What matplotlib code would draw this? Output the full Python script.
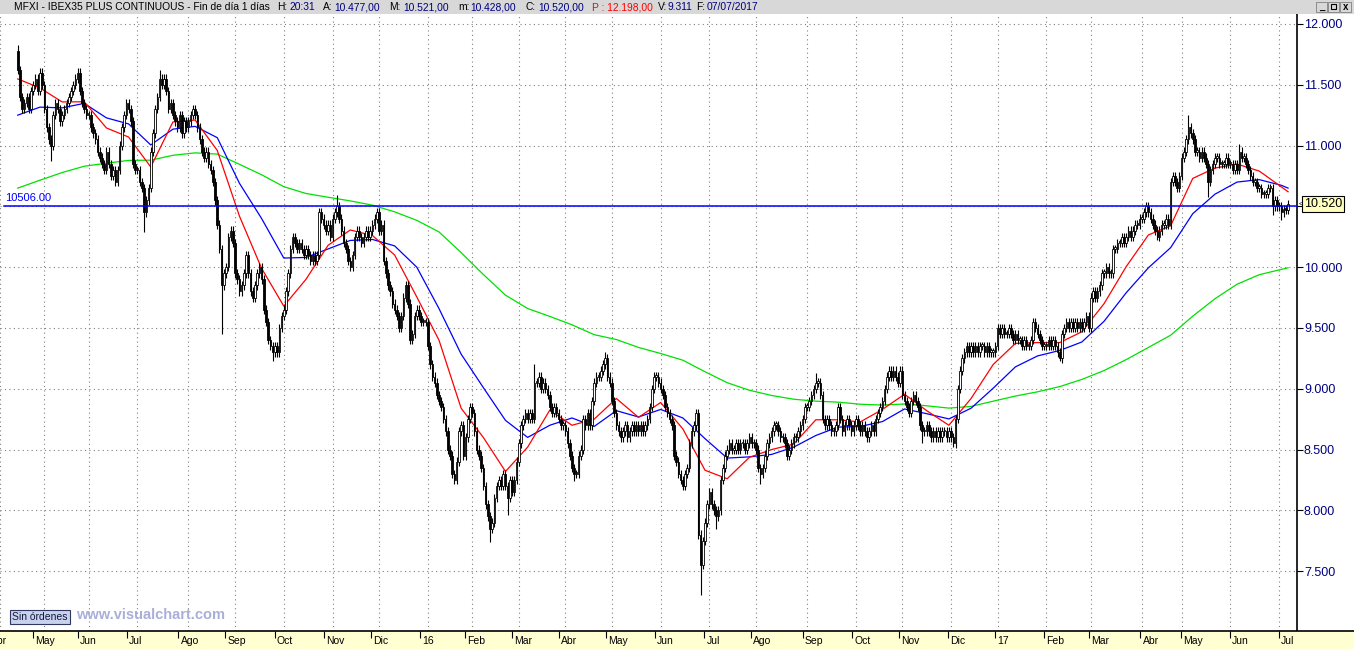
import numpy as np
import matplotlib.pyplot as plt
from matplotlib.patches import Rectangle
from matplotlib.transforms import blended_transform_factory

plt.rcParams['font.family'] = ['Liberation Sans', 'DejaVu Sans']

# Daily closes (MFXI, Apr 2015 - Jul 2017)
close_2015 = [
    # Apr
    11620, 11400, 11300, 11350, 11400, 11300, 11450, 11500, 11550, 11450, 11600, 11500,
    # May
    11300, 11150, 11050, 11000, 11250, 11350, 11300, 11200, 11250, 11300,
    11350, 11400, 11450, 11500, 11550, 11600, 11450, 11350, 11300, 11250,
    # Jun
    11250, 11150, 11100, 11050, 10950, 10900, 10850, 10800, 10950, 10850,
    10750, 10800, 10700, 10800, 11000, 11150, 11250, 11350, 11300, 11200, 10850, 10800,
    # Jul
    10800, 10700, 10650, 10450, 10550, 10650, 10950, 11100, 11300, 11400,
    11550, 11500, 11550, 11450, 11300, 11350, 11250, 11200, 11150, 11250, 11100, 11200, 11150,
    # Aug
    11200, 11250, 11300, 11250, 11150, 11050, 10950, 10900, 10950, 10850,
    10800, 10700, 10550, 10350, 10150, 9850, 9950, 10000, 10250, 10300, 10200,
    # Sep
    9950, 9900, 9800, 9850, 9950, 10100, 9950, 9800, 9750, 9850,
    9950, 10000, 9900, 9650, 9550, 9400, 9350, 9300, 9350, 9300, 9500, 9600,
    # Oct
    9650, 9800, 9950, 10150, 10250, 10200, 10150, 10200, 10150, 10100,
    10150, 10100, 10050, 10100, 10050, 10100, 10450, 10400, 10350, 10300, 10350, 10250,
    # Nov
    10400, 10450, 10500, 10400, 10300, 10200, 10150, 10050, 10000, 10100,
    10250, 10300, 10250, 10200, 10250, 10300, 10250, 10300, 10350, 10400, 10450,
    # Dec
    10300, 10350, 10050, 9950, 9850, 9800, 9700, 9650, 9600, 9500,
    9600, 9750, 9850, 9700, 9400, 9450, 9600, 9650, 9600, 9550, 9550, 9550,
]
close_2016 = [
    # Jan
    9350, 9200, 9100, 9050, 8950, 8900, 8850, 8750, 8650, 8500,
    8450, 8300, 8250, 8400, 8650, 8700, 8450, 8600, 8750, 8850,
    # Feb
    8800, 8650, 8500, 8450, 8350, 8200, 8050, 7950, 7850, 7900,
    8100, 8200, 8250, 8200, 8300, 8200, 8100, 8250, 8150, 8250, 8400,
    # Mar
    8550, 8700, 8750, 8800, 8750, 8800, 8750, 9050, 9050, 9100,
    9000, 9050, 9000, 8950, 8850, 8800, 8850, 8800, 8750, 8700, 8700,
    # Apr
    8650, 8550, 8450, 8350, 8300, 8300, 8450, 8500, 8750, 8700,
    8800, 8700, 8900, 9050, 9100, 9100, 9150, 9200, 9250, 9100, 9050,
    # May
    8900, 8800, 8700, 8650, 8600, 8650, 8700, 8600, 8650, 8700,
    8650, 8700, 8650, 8700, 8650, 8700, 8750, 8850, 9000, 9100, 9100, 9050,
    # Jun
    9000, 8950, 8850, 8800, 8750, 8700, 8450, 8400, 8300, 8250,
    8200, 8300, 8350, 8550, 8650, 8700, 8800, 7800, 7550, 7750, 7900, 8050,
    # Jul
    8150, 8050, 8000, 7950, 8000, 8250, 8350, 8450, 8500, 8550,
    8500, 8500, 8550, 8500, 8550, 8550, 8500, 8550, 8600, 8550, 8550,
    # Aug
    8500, 8350, 8300, 8350, 8450, 8550, 8600, 8650, 8700, 8700,
    8650, 8600, 8600, 8550, 8450, 8500, 8550, 8600, 8600, 8650, 8700, 8750, 8850,
    # Sep
    8850, 8900, 8950, 9000, 9050, 9050, 8950, 8750, 8700, 8750,
    8700, 8650, 8650, 8700, 8850, 8750, 8650, 8700, 8750, 8700, 8650, 8700,
    # Oct
    8750, 8700, 8650, 8700, 8650, 8600, 8650, 8700, 8650, 8750,
    8800, 8850, 8900, 9000, 9100, 9150, 9100, 9150, 9100, 9050, 9150,
    # Nov
    8950, 8900, 8850, 8800, 8900, 8950, 8900, 8850, 8700, 8650,
    8650, 8700, 8650, 8600, 8650, 8600, 8650, 8600, 8650, 8650, 8600, 8650,
    # Dec
    8600, 8550, 8750, 9000, 9150, 9250, 9300, 9350, 9300, 9350,
    9300, 9350, 9300, 9350, 9350, 9300, 9350, 9300, 9300, 9300, 9350,
]
close_2017 = [
    # Jan
    9500, 9450, 9500, 9450, 9450, 9500, 9450, 9400, 9450, 9400,
    9400, 9350, 9400, 9350, 9350, 9400, 9550, 9500, 9450, 9400, 9350, 9350,
    # Feb
    9350, 9400, 9350, 9400, 9350, 9300, 9250, 9450, 9500, 9550,
    9500, 9550, 9500, 9550, 9500, 9550, 9500, 9550, 9600, 9500,
    # Mar
    9750, 9800, 9750, 9800, 9850, 9950, 9950, 10000, 9950, 9950,
    10150, 10150, 10200, 10200, 10250, 10200, 10250, 10300, 10250, 10300, 10350, 10350, 10400,
    # Apr
    10400, 10450, 10500, 10450, 10400, 10350, 10300, 10250, 10300, 10350,
    10350, 10400, 10350, 10700, 10750, 10700, 10650, 10750,
    # May
    10900, 10950, 11050, 11150, 11100, 11050, 10950, 10950, 10900, 10950,
    10900, 10850, 10700, 10800, 10850, 10900, 10900, 10850, 10850, 10850, 10900, 10850,
    # Jun
    10850, 10800, 10850, 10800, 10950, 10900, 10900, 10850, 10800, 10750,
    10700, 10700, 10650, 10650, 10600, 10600, 10600, 10650, 10650, 10500, 10550, 10500,
    # Jul
    10500, 10450, 10480, 10470, 10520,
]
first_open = 11780

# visible extremes (bar index -> price)
low_marks = {15: 10870, 57: 10290, 92: 9450, 115: 9230, 213: 7740, 221: 7960,
             251: 8240, 308: 7300, 315: 7850, 335: 8220, 408: 8550, 422: 8520,
             470: 9230, 514: 10220, 537: 10580, 566: 10430, 570: 10390}
high_marks = {0: 11830, 64: 11620, 144: 10590, 233: 9200, 265: 9300,
              360: 9130, 528: 11250, 551: 11010}

# month axis
month_labels = ['Abr', 'May', 'Jun', 'Jul', 'Ago', 'Sep', 'Oct', 'Nov', 'Dic',
                '16', 'Feb', 'Mar', 'Abr', 'May', 'Jun', 'Jul', 'Ago', 'Sep', 'Oct', 'Nov', 'Dic',
                '17', 'Feb', 'Mar', 'Abr', 'May', 'Jun', 'Jul']
month_bars = [20, 20, 22, 23, 21, 22, 22, 21, 22,
              20, 21, 21, 21, 22, 22, 21, 23, 22, 21, 22, 21,
              22, 20, 23, 18, 22, 22, 5]
hidden_bars = 8  # April 2015 bars before the first visible candle

# moving averages read every 10 bars (+ last bar)
ma_fast = [11548, 11474, 11359, 11360, 11145, 11070, 10824, 11194, 11210, 10960,
           10420, 9990, 9680, 9900, 10180, 10306, 10260, 10100, 9755, 9400,
           8840, 8600, 8320, 8520, 8825, 8700, 8750, 8920, 8765, 8887,
           8670, 8330, 8260, 8436, 8500, 8545, 8745, 8745, 8727, 8830,
           8955, 8820, 8700, 8920, 9200, 9373, 9380, 9380, 9469, 9700,
           10005, 10265, 10340, 10730, 10815, 10848, 10790, 10660, 10620]
ma_mid = [11250, 11316, 11310, 11347, 11228, 11178, 11005, 11135, 11158, 11065,
          10690, 10400, 10075, 10080, 10150, 10220, 10228, 10175, 10000, 9660,
          9285, 9010, 8740, 8600, 8700, 8760, 8690, 8820, 8768, 8830,
          8760, 8590, 8430, 8440, 8460, 8520, 8616, 8685, 8690, 8730,
          8834, 8795, 8752, 8840, 9005, 9180, 9270, 9315, 9385, 9555,
          9790, 9995, 10160, 10440, 10600, 10700, 10720, 10673, 10650]
ma_slow = [10650, 10715, 10778, 10830, 10855, 10878, 10880, 10920, 10940, 10930,
           10846, 10760, 10662, 10606, 10575, 10545, 10510, 10455, 10385, 10290,
           10120, 9940, 9770, 9660, 9595, 9526, 9445, 9405, 9340, 9290,
           9235, 9140, 9050, 8988, 8945, 8914, 8898, 8890, 8873, 8866,
           8875, 8860, 8841, 8855, 8898, 8940, 8975, 9018, 9077, 9150,
           9240, 9340, 9440, 9597, 9740, 9860, 9938, 9982, 9995]

ref_level = 10506
last_price = 10520
y_levels = [7500, 8000, 8500, 9000, 9500, 10000, 10500, 11000, 11500, 12000]

# ---------------------------------------------------------------------------
closes = np.array(close_2015 + close_2016 + close_2017, dtype=float)
n = len(closes)
bars = np.arange(n)
opens = np.r_[first_open, closes[:-1]]
wick = 35
highs = np.maximum(opens, closes) + wick
lows = np.minimum(opens, closes) - wick
for i, v in low_marks.items():
    lows[i] = v
for i, v in high_marks.items():
    highs[i] = v

month_starts = np.cumsum([0] + month_bars[:-1]) - hidden_bars
ma_x = np.r_[np.arange(0, n, 10), n - 1]

W, H = 1354, 649
fig = plt.figure(figsize=(W / 100, H / 100), dpi=100)
fig.patch.set_facecolor('white')


def box(x0, y0, x1, y1):
    return [x0 / W, 1 - y1 / H, (x1 - x0) / W, (y1 - y0) / H]


def fmt(v):
    return f'{v // 1000}.{v % 1000:03d}'


bar_px = 2.237
x_left = -6.2 / bar_px
x_right = x_left + 1297 / bar_px

ax = fig.add_axes(box(0, 14, 1297, 631))
ax.set_xlim(x_left, x_right)
ax.set_ylim(7008, 12082)
for s in ['left', 'top', 'bottom']:
    ax.spines[s].set_visible(False)
ax.spines['right'].set_color('black')
ax.spines['right'].set_linewidth(1.2)

ax.set_xticks(month_starts)
ax.tick_params(axis='x', length=0, labelbottom=False)
ax.yaxis.tick_right()
ax.set_yticks(y_levels)
# the 10.500 label is covered by the last-price box in the original
ax.set_yticklabels(['' if v == 10500 else fmt(v) for v in y_levels])
ax.tick_params(axis='y', direction='out', length=4, width=0.8, pad=1,
               labelsize=9, colors='black')
for lab in ax.get_yticklabels():
    lab.set_color('#000080')
ax.grid(True, color='#808080', linestyle=(0, (1, 3)), linewidth=0.8)
ax.set_axisbelow(True)

# moving averages
ax.plot(ma_x, ma_slow, color='#00E000', lw=0.9, zorder=2)
ax.plot(ma_x, ma_mid, color='#0000FF', lw=0.9, zorder=2)
ax.plot(ma_x, ma_fast, color='#FF0000', lw=0.9, zorder=2)

# candles
ax.vlines(bars, lows, highs, color='black', lw=0.8, zorder=3)
body_lo = np.minimum(opens, closes)
body_h = np.maximum(np.abs(closes - opens), 15)
face = np.where(closes < opens, 'black', 'white')
ax.bar(bars, body_h, bottom=body_lo, width=0.7, color=face,
       edgecolor='black', linewidth=0.6, zorder=4)

# reference line
ax.axhline(ref_level, xmin=4 / 1297, color='#0000FF', lw=1.1, zorder=5)
tr = blended_transform_factory(ax.transAxes, ax.transData)
ax.text(5 / 1297, ref_level + 25, f'{ref_level:.2f}', transform=tr,
        color='#0000FF', fontsize=8, va='bottom', ha='left')

# last price box
ax.text(1.0 + 7 / 1297, last_price, fmt(last_price),
        transform=tr, va='center', ha='left', fontsize=9, color='black',
        clip_on=False, zorder=6,
        bbox=dict(boxstyle='square,pad=0.15', facecolor='#FFFFC0',
                  edgecolor='black', linewidth=0.8))
ax.text(1.0 + 2 / 1297, last_price, '<', transform=tr, va='center', ha='left',
        fontsize=5, color='black', clip_on=False)

# bottom month strip
bx = fig.add_axes(box(0, 631, W, H))
bx.set_facecolor('#FFFFD2')
bx.set_xlim(x_left, x_left + W / bar_px)
bx.set_ylim(0, 1)
bx.set_xticks([])
bx.set_yticks([])
for s in ['left', 'right', 'bottom']:
    bx.spines[s].set_visible(False)
bx.spines['top'].set_linewidth(1.2)
bx.vlines(month_starts, 0.62, 1.0, color='black', lw=0.8)
for xs, lab in zip(month_starts, month_labels):
    bx.text(xs + 1.0, 0.45, lab, fontsize=7.5, va='center', ha='left')

# title bar
hx = fig.add_axes(box(0, 0, W, 14))
hx.set_xlim(0, W)
hx.set_ylim(14, 0)
hx.axis('off')
hx.add_patch(Rectangle((0, 0), W, 14, facecolor='#D8D8D8', edgecolor='none'))
header = [
    (14, 'MFXI - IBEX35 PLUS CONTINUOUS - Fin de día 1 días', 'black'),
    (277, 'H:', 'black'), (289, '20:31', '#000080'),
    (323, 'A:', 'black'), (334, '10.477,00', '#000080'),
    (389, 'M:', 'black'), (403, '10.521,00', '#000080'),
    (458, 'm:', 'black'), (470, '10.428,00', '#000080'),
    (525, 'C:', 'black'), (538, '10.520,00', '#000080'),
    (592, 'P : 12.198,00', '#FF0000'),
    (658, 'V:', 'black'), (668, '9.311', '#000080'),
    (696, 'F:', 'black'), (707, '07/07/2017', '#000080'),
]
for xp, txt, col in header:
    hx.text(xp, 7.5, txt, fontsize=7.4, color=col, va='center', ha='left')
for xb in [1316, 1328, 1340]:
    hx.add_patch(Rectangle((xb, 2), 11, 10, facecolor='#D8D8D8',
                           edgecolor='#808080', lw=0.6))
hx.add_patch(Rectangle((1331, 4), 5, 5, facecolor='none', edgecolor='black', lw=0.8))
hx.text(1321.5, 6.5, '_', fontsize=7, ha='center', va='center', fontweight='bold')
hx.text(1345.5, 7, 'x', fontsize=7, ha='center', va='center', fontweight='bold')

# footer labels
fig.text(12 / W, 1 - 617 / H, 'Sin órdenes', fontsize=7.5, color='#101840',
         va='center', ha='left',
         bbox=dict(boxstyle='square,pad=0.2', facecolor='#C8D2EC',
                   edgecolor='#303860', linewidth=0.8))
fig.text(76 / W, 1 - 615 / H, 'www.visualchart.com', fontsize=10.5,
         fontweight='bold', color='#A9AFD9', va='center', ha='left')

fig.savefig('out.png', dpi=100)
